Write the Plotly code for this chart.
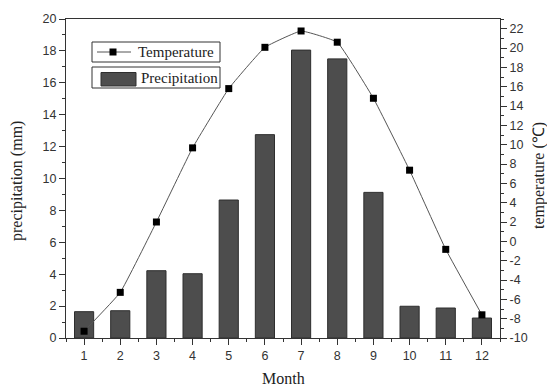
import plotly.graph_objects as go

months = [1, 2, 3, 4, 5, 6, 7, 8, 9, 10, 11, 12]
precipitation = [1.65, 1.71, 4.22, 4.03, 8.65, 12.75, 18.05, 17.5, 9.13, 1.99, 1.88, 1.25]
temperature = [-9.3, -5.28, 2.0, 9.67, 15.8, 20.07, 21.76, 20.6, 14.8, 7.36, -0.83, -7.6]
temp_ticks = list(range(-10, 23, 2))
temp_ticktext = [str(v) for v in temp_ticks]

W, H = 547, 386
L, R, T, B = 66, 47, 19, 48
PW, PH = W - L - R, H - T - B

def px(x):
    return (x - L) / PW

def py(y):
    return (H - B - y) / PH

fig = go.Figure()
fig.add_trace(go.Bar(
    x=months, y=precipitation, name="Precipitation", width=0.53,
    marker=dict(color="#4d4d4d", line=dict(color="#2e2e2e", width=1)),
    showlegend=False,
))
fig.add_trace(go.Scatter(
    x=months, y=temperature, name="Temperature", yaxis="y2",
    mode="lines+markers", line=dict(color="#555555", width=1, shape="spline", smoothing=0.3),
    marker=dict(symbol="square", size=7, color="black"),
    showlegend=False,
))

tickfont = dict(family="Liberation Sans, Arial", size=12.5, color="#333333")
titlefont = dict(family="Liberation Serif, Times New Roman", size=16, color="#222222")

fig.update_layout(
    template="none",
    width=W, height=H,
    margin=dict(l=L, r=R, t=T, b=B, autoexpand=False),
    plot_bgcolor="white", paper_bgcolor="white",
    xaxis=dict(
        range=[0.5, 12.5], tickmode="array", tickvals=months, ticktext=[str(m) for m in months],
        ticks="outside", ticklen=6, tickcolor="#333", tickwidth=1,
        minor=dict(ticks="outside", ticklen=3, tickcolor="#333", dtick=0.5, tick0=0.5, showgrid=False),
        showline=True, linecolor="#333", linewidth=1.2, mirror=True,
        showgrid=False, zeroline=False, tickfont=tickfont, automargin=False,
    ),
    yaxis=dict(
        range=[0, 20], dtick=2, tick0=0,
        ticks="outside", ticklen=6, tickcolor="#333",
        minor=dict(ticks="outside", ticklen=3, tickcolor="#333", dtick=1, showgrid=False),
        showline=True, linecolor="#333", linewidth=1.2, mirror=False,
        showgrid=False, zeroline=False, tickfont=tickfont, automargin=False,
    ),
    yaxis2=dict(
        range=[-10, 23], tickmode="array", tickvals=temp_ticks, ticktext=temp_ticktext,
        overlaying="y", side="right",
        ticks="outside", ticklen=6, tickcolor="#333",
        minor=dict(ticks="outside", ticklen=3, tickcolor="#333", dtick=1, tick0=-10, showgrid=False),
        showline=True, linecolor="#333", linewidth=1.2,
        showgrid=False, zeroline=False, tickfont=tickfont, automargin=False,
    ),
)

shapes = []
shapes.append(dict(type="rect", xref="paper", yref="paper", x0=px(92), x1=px(220), y0=py(62), y1=py(42),
                   line=dict(color="#333", width=1), fillcolor="white", layer="above"))
shapes.append(dict(type="line", xref="paper", yref="paper", x0=px(97), x1=px(131), y0=py(52), y1=py(52),
                   line=dict(color="#555", width=1), layer="above"))
shapes.append(dict(type="rect", xref="paper", yref="paper", x0=px(109.5), x1=px(116.5), y0=py(55.5), y1=py(48.5),
                   line=dict(color="black", width=0), fillcolor="black", layer="above"))
shapes.append(dict(type="rect", xref="paper", yref="paper", x0=px(92), x1=px(220), y0=py(88), y1=py(67),
                   line=dict(color="#333", width=1), fillcolor="white", layer="above"))
shapes.append(dict(type="rect", xref="paper", yref="paper", x0=px(101), x1=px(136), y0=py(86), y1=py(72.5),
                   line=dict(color="#2e2e2e", width=1), fillcolor="#4d4d4d", layer="above"))
fig.update_layout(shapes=shapes)

legfont = dict(family="Liberation Serif, Times New Roman", size=15, color="#222222")
fig.add_annotation(xref="paper", yref="paper", x=px(136), y=py(52), text="Temperature",
                   showarrow=False, xanchor="left", yanchor="middle", font=legfont)
fig.add_annotation(xref="paper", yref="paper", x=px(139), y=py(78), text="Precipitation",
                   showarrow=False, xanchor="left", yanchor="middle", font=legfont)

# axis titles
fig.add_annotation(xref="paper", yref="paper", x=px(17), y=py(181), text="precipitation (mm)",
                   textangle=-90, showarrow=False, xanchor="center", yanchor="middle", font=titlefont)
fig.add_annotation(xref="paper", yref="paper", x=px(539), y=py(176), text="temperature (℃)",
                   textangle=-90, showarrow=False, xanchor="center", yanchor="middle", font=titlefont)
fig.add_annotation(xref="paper", yref="paper", x=px(283), y=py(378), text="Month",
                   showarrow=False, xanchor="center", yanchor="middle", font=titlefont)

fig.write_html("out.html", config={"displayModeBar": False},
               post_script="document.body.style.margin='0';document.body.style.padding='0';"
                           "document.documentElement.style.overflow='hidden';")
